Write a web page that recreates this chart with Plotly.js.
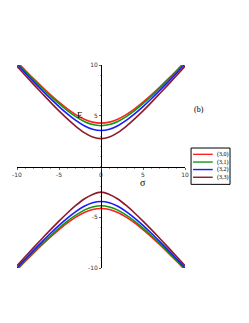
<!DOCTYPE html>
<html>
<head>
<meta charset="utf-8">
<script src="https://cdn.plot.ly/plotly-3.0.1.min.js"></script>
<style>html,body{margin:0;padding:0;background:#fff;}#chart{width:249px;height:323px;}</style>
</head>
<body>
<div id="chart"></div>
<script>
var sigma = [-10,-9,-8,-7,-6,-5,-4,-3,-2,-1,0,1,2,3,4,5,6,7,8,9,10];

var names = ["(3,0)", "(3,1)", "(3,2)", "(3,3)"];
var colors = ["#ff2020", "#119911", "#1a1aff", "#8b1a2a"];

// upper branches (E > 0)
var up30 = [10.31,9.46,8.63,7.83,7.06,6.34,5.68,5.11,4.66,4.37,4.27,4.37,4.66,5.11,5.68,6.34,7.06,7.83,8.63,9.46,10.31];
var up31 = [10.23,9.38,8.53,7.72,6.93,6.19,5.51,4.92,4.44,4.13,4.02,4.13,4.44,4.92,5.51,6.19,6.93,7.72,8.53,9.38,10.23];
var up32 = [10.08,9.20,8.34,7.50,6.68,5.90,5.18,4.54,4.02,3.67,3.55,3.67,4.02,4.54,5.18,5.90,6.68,7.50,8.34,9.20,10.08];
var up33 = [9.88,8.97,8.07,7.19,6.32,5.48,4.69,3.96,3.34,2.91,2.75,2.91,3.34,3.96,4.69,5.48,6.32,7.19,8.07,8.97,9.88];

// lower branches (E < 0)
var lo30 = [-10.19,-9.34,-8.51,-7.71,-6.94,-6.22,-5.56,-4.99,-4.54,-4.24,-4.14,-4.24,-4.54,-4.99,-5.56,-6.22,-6.94,-7.71,-8.51,-9.34,-10.19];
var lo31 = [-10.11,-9.26,-8.41,-7.60,-6.81,-6.07,-5.38,-4.79,-4.30,-3.99,-3.87,-3.99,-4.30,-4.79,-5.38,-6.07,-6.81,-7.60,-8.41,-9.26,-10.11];
var lo32 = [-9.98,-9.10,-8.24,-7.40,-6.58,-5.80,-5.08,-4.44,-3.92,-3.57,-3.45,-3.57,-3.92,-4.44,-5.08,-5.80,-6.58,-7.40,-8.24,-9.10,-9.98];
var lo33 = [-9.78,-8.87,-7.97,-7.09,-6.22,-5.38,-4.58,-3.84,-3.20,-2.75,-2.52,-2.75,-3.20,-3.84,-4.58,-5.38,-6.22,-7.09,-7.97,-8.87,-9.78];

var xTicks = [-10, -5, 0, 5, 10];
var yTicks = [-10, -5, 5, 10];

var upper = [up30, up31, up32, up33];
var lower = [lo30, lo31, lo32, lo33];

var traces = [];
for (var i = 0; i < names.length; i++) {
  traces.push({x: sigma, y: upper[i], type: "scatter", mode: "lines", name: names[i],
    line: {color: colors[i], width: 1.6, shape: "spline"}, showlegend: false, hoverinfo: "skip"});
  traces.push({x: sigma, y: lower[i], type: "scatter", mode: "lines", name: names[i],
    line: {color: colors[i], width: 1.6, shape: "spline"}, showlegend: false, hoverinfo: "skip"});
}

var tickFont = {family: "DejaVu Sans", size: 6, color: "#333"};
var serif = "Liberation Serif";

var axisCommon = {
  showgrid: false, zeroline: false, showline: true, linecolor: "#000", linewidth: 1,
  ticks: "outside", ticklen: 2, tickwidth: 0.8, tickcolor: "#444",
  tickmode: "array", tickfont: tickFont, anchor: "free", position: 0.5,
  minor: {ticks: "outside", ticklen: 1.5, tickwidth: 0.6, tickcolor: "#666", dtick: 1}
};

var xaxis = Object.assign({}, axisCommon, {range: [-10, 10], tickvals: xTicks, ticktext: xTicks.map(String), ticklabelstandoff: 0});
var yaxis = Object.assign({}, axisCommon, {range: [-10, 10], tickvals: yTicks, ticktext: yTicks.map(String), ticklabelstandoff: 0});

// custom compact legend (paper coordinates)
var shapes = [{type: "rect", xref: "paper", yref: "paper", x0: 1.036, x1: 1.268, y0: 0.412, y1: 0.591,
  line: {color: "#000", width: 1}, fillcolor: "rgba(0,0,0,0)"}];
var annotations = [
  {text: "E", x: -2.5, y: 5.1, xref: "x", yref: "y", showarrow: false, font: {family: serif, size: 9, color: "#000"}},
  {text: "σ", x: 5.0, y: -1.6, xref: "x", yref: "y", showarrow: false, font: {family: serif, size: 10, color: "#000"}},
  {text: "(b)", x: 1.125, y: 0.811, xref: "paper", yref: "paper", showarrow: false, font: {family: serif, size: 8, color: "#000"}}
];
var legY = [0.560, 0.522, 0.485, 0.447];
for (var k = 0; k < names.length; k++) {
  shapes.push({type: "line", xref: "paper", yref: "paper", x0: 1.048, x1: 1.165, y0: legY[k], y1: legY[k],
    line: {color: colors[k], width: 1.4}});
  annotations.push({text: names[k], x: 1.176, y: legY[k], xref: "paper", yref: "paper", xanchor: "left",
    yanchor: "middle", showarrow: false, font: {family: serif, size: 6, color: "#000"}});
}

var layout = {
  width: 249, height: 323,
  margin: {l: 17, r: 64, t: 65, b: 55, pad: 0},
  paper_bgcolor: "#fff", plot_bgcolor: "#fff",
  showlegend: false,
  xaxis: xaxis, yaxis: yaxis,
  shapes: shapes, annotations: annotations
};

Plotly.newPlot("chart", traces, layout, {staticPlot: true, displayModeBar: false});
</script>
</body>
</html>
